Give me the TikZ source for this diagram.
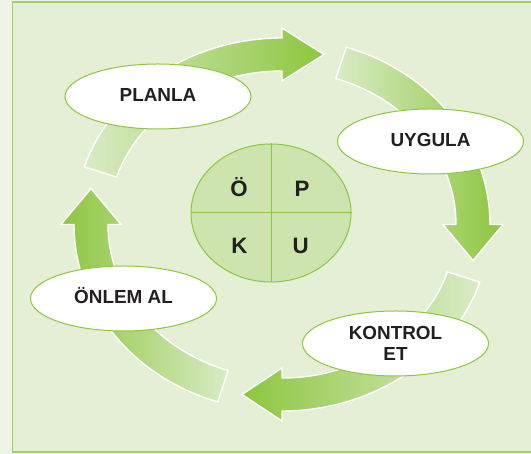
\documentclass[tikz,border=0pt]{standalone}
\usepackage{fontspec}
\setmainfont{Liberation Sans}
\usetikzlibrary{shapes.geometric,calc}

\definecolor{pagebg}{HTML}{EEF5E7}
\definecolor{panelbg}{HTML}{E4EFD5}
\definecolor{panelline}{HTML}{9ED06A}
\definecolor{leaf}{HTML}{8DC63F}
\definecolor{leaflight}{HTML}{D9EBC6}
\definecolor{discfill}{HTML}{CDE4AE}
\definecolor{ink}{HTML}{231F20}

% one curved arrow of the cycle: #1 = angle of the head base,
% #2 = offset of the tip, #3/#4 = left/right shading colours
\newcommand\cyclearrow[4]{%
  \shadedraw[arrowbody, left color=#3, right color=#4]
    ([shift={(ring)}]#1+72:208pt and 186.5pt)
    arc[start angle=#1+72, end angle=#1, x radius=208pt, y radius=186.5pt]
    -- ([shift={(ring)}]#1:221pt and 196.5pt)
    -- ($([shift={(ring)}]#1:191pt and 170pt)+#2$)
    -- ([shift={(ring)}]#1:161pt and 143.5pt)
    -- ([shift={(ring)}]#1:174pt and 153.5pt)
    arc[start angle=#1, end angle=#1+72, x radius=174pt, y radius=153.5pt]
    -- cycle;}

\tikzset{
  arrowbody/.style={draw=white, line width=1.4pt, line join=miter},
  stage/.style={ellipse, draw=leaf, fill=white, line width=1pt,
    minimum width=186pt, minimum height=65pt, inner sep=0pt,
    text=ink, font=\fontsize{18.9}{21}\selectfont\bfseries,
    text height=13.6pt, text depth=4pt},
  letter/.style={anchor=base, inner sep=0pt, text=ink,
    font=\fontsize{22.3}{26}\selectfont\bfseries},
}

\begin{document}
\begin{tikzpicture}[x=1pt, y=1pt]
  \useasboundingbox (0,0) rectangle (531,454);
  \fill[pagebg] (0,0) rectangle (531,454);
  \filldraw[fill=panelbg, draw=panelline, line width=1.3pt]
    (12.5,2) rectangle (545,452);

  \coordinate (ring) at (282,229.5);

  % the four curved arrows
  \cyclearrow{90}{(42,0)}{leaflight}{leaf}
  \cyclearrow{0}{(0,-36)}{leaflight}{leaf}
  \cyclearrow{-90}{(-40,0)}{leaf}{leaflight}
  \cyclearrow{180}{(0,36)}{leaf}{leaflight}

  % stages of the cycle
  \node[stage] (plan)  at (158,357.5)   {PLANLA};
  \node[stage] (apply) at (430.5,312.5) {UYGULA};
  \node[stage] (act)   at (123.5,155.5) {ÖNLEM AL};
  \node[stage, align=center, text height=, text depth=] (check) at (395.5,110.5) {KONTROL\\ET};

  % central disc
  \node[ellipse, draw=leaf, fill=discfill, line width=1pt,
        minimum width=160pt, minimum height=138pt, inner sep=0pt] (disc) at (271,241) {};
  \draw[leaf, line width=1pt] (disc.north) -- (disc.south);
  \draw[leaf, line width=1pt] (disc.west) -- (disc.east);
  \node[letter] (o) at ($(disc.center)+(-32,16.3)$) {Ö};
  \node[letter] (p) at ($(disc.center)+(31,16.3)$)  {P};
  \node[letter] (k) at ($(disc.center)+(-31.5,-41)$) {K};
  \node[letter] (u) at ($(disc.center)+(29.7,-41)$) {U};
\end{tikzpicture}
\end{document}
